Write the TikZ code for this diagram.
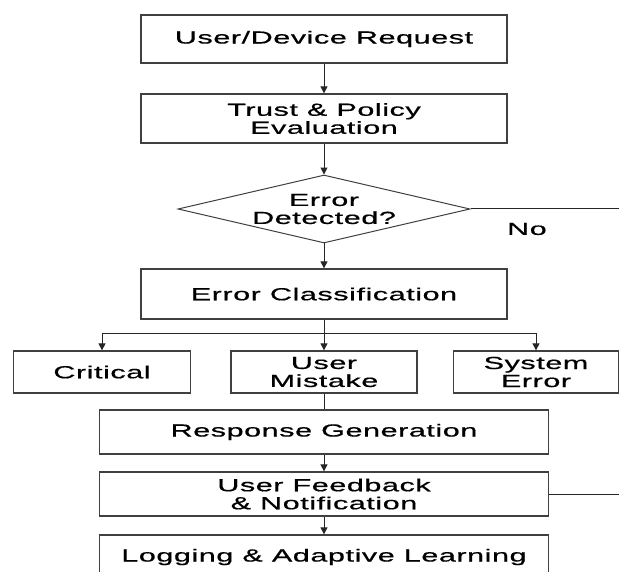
\documentclass[tikz,border=0pt]{standalone}
\usepackage{fontspec}
\setmainfont[FakeStretch=1.75,LetterSpace=3,FakeBold=0.6]{Liberation Sans}
\usetikzlibrary{shapes.geometric,arrows.meta}

\begin{document}
\begin{tikzpicture}[node distance=62pt, font=\fontsize{17.5}{18}\selectfont]
    % Define styles
    \tikzstyle{block} = [rectangle, draw=black!75, line width=1.3pt, align=center, inner sep=0pt, minimum width=366pt, minimum height=48pt]
    \tikzstyle{choice} = [diamond, draw=black!75, line width=1pt, align=center, aspect=4.3, inner sep=0pt, minimum width=292pt, minimum height=68pt]
    \tikzstyle{kind} = [block, minimum height=42pt]
    \tikzstyle{wide} = [block, minimum width=449pt, minimum height=44pt]
    \tikzstyle{arrow} = [line width=1pt, draw=black!85, -{Triangle[length=7pt,width=7pt]}]
    \tikzstyle{line} = [line width=1pt, draw=black!85]

    \useasboundingbox [fill=white] (0,0) rectangle (619pt,-572pt);

    % Main column
    \node (request) [block] at (324pt,-39pt) {User/Device Request};
    \node (policy) [block, below of=request, yshift=-17.5pt, minimum height=49pt] {Trust \& Policy\\ Evaluation};
    \node (detect) [choice, below of=policy, yshift=-28.5pt] {Error\\ Detected?};
    \node (classify) [block, below of=detect, yshift=-23pt, minimum height=50pt] {Error Classification};

    % Error kinds
    \node (mistake) [kind, below of=classify, yshift=-16pt, minimum width=186pt] {User\\ Mistake};
    \node (critical) [kind, left of=mistake, node distance=222pt, minimum width=177pt] {Critical};
    \node (system) [kind, right of=mistake, node distance=212pt, minimum width=165pt] {System\\ Error};

    % Response chain
    \node (response) [wide, below of=mistake, yshift=2pt] {Response Generation};
    \node (feedback) [wide, below of=response] {User Feedback\\ \& Notification};
    \node (logging) [wide, below of=feedback, yshift=-1pt] {Logging \& Adaptive Learning};

    % Main column arrows
    \draw [arrow] (request) -- (policy);
    \draw [arrow] (policy) -- (detect);
    \draw [arrow] (detect) -- (classify);
    \draw [arrow] (classify) -- (mistake);

    % Split to the error kinds
    \coordinate [below of=classify, node distance=40pt] (split);
    \draw [arrow] (split) -| (critical);
    \draw [arrow] (split) -| (system);

    % Response chain arrows
    \draw [line] (mistake) -- (response);
    \draw [arrow] (response) -- (feedback);
    \draw [arrow] (feedback) -- (logging);

    % Exits to the right edge
    \coordinate (rim) at (619pt,0);
    \draw [line] (detect.east) -- (detect.east -| rim) node [pos=0.38, below=10pt] {No};
    \draw [line] (feedback.east) -- (feedback.east -| rim);
\end{tikzpicture}
\end{document}
